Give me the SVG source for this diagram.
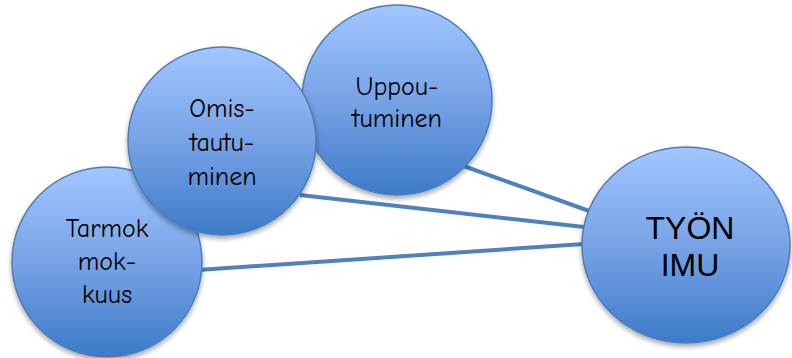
<svg xmlns="http://www.w3.org/2000/svg" width="792" height="358" viewBox="0 0 792 358">
  <defs>
    <linearGradient id="bubbleFill" x1="0" y1="0" x2="0" y2="1">
      <stop offset="0" stop-color="#a2c6ff"/>
      <stop offset="0.5" stop-color="#77a3e6"/>
      <stop offset="1" stop-color="#3d7ac8"/>
    </linearGradient>
    <filter id="softShadow" x="-20%" y="-20%" width="140%" height="150%">
      <feDropShadow dx="0" dy="3" stdDeviation="2.5" flood-color="#000" flood-opacity="0.35"/>
    </filter>
  </defs>
  <style>
    .bubble { fill: url(#bubbleFill); stroke: #4a7ebb; stroke-width: 1.5; filter: url(#softShadow); }
    .link { stroke: #4f81bd; stroke-width: 4; fill: none; }
    .label { font-family: "Comic Sans MS", "Comic Neue", "DejaVu Sans", sans-serif; font-size: 26px; fill: #000; text-anchor: middle; }
    .main { font-family: "Liberation Sans", Arial, sans-serif; font-size: 32px; fill: #000; text-anchor: middle; }
  </style>
  <rect width="792" height="358" fill="#ffffff"/>

  <!-- connectors to the central node -->
  <g id="connectors">
    <line class="link" x1="458" y1="164" x2="592" y2="212"/>
    <line class="link" x1="300" y1="195" x2="584" y2="227"/>
    <line class="link" x1="198" y1="270" x2="584" y2="244"/>
  </g>

  <g id="tarmokkuus">
    <circle class="bubble" cx="107" cy="262" r="95"/>
    <text class="label" x="107" y="237">Tarmok</text>
    <text class="label" x="107" y="270">mok-</text>
    <text class="label" x="107" y="303">kuus</text>
  </g>

  <g id="uppoutuminen">
    <circle class="bubble" cx="397" cy="100" r="95"/>
    <text class="label" x="397" y="95">Uppou-</text>
    <text class="label" x="397" y="127">tuminen</text>
  </g>

  <g id="omistautuminen">
    <circle class="bubble" cx="222" cy="141" r="94"/>
    <text class="label" x="222" y="117">Omis-</text>
    <text class="label" x="222" y="151">tautu-</text>
    <text class="label" x="222" y="185">minen</text>
  </g>

  <g id="tyon-imu">
    <ellipse class="bubble" cx="686" cy="245" rx="104" ry="98"/>
    <text class="main" x="690" y="239">TYÖN</text>
    <text class="main" x="690" y="276">IMU</text>
  </g>
</svg>
